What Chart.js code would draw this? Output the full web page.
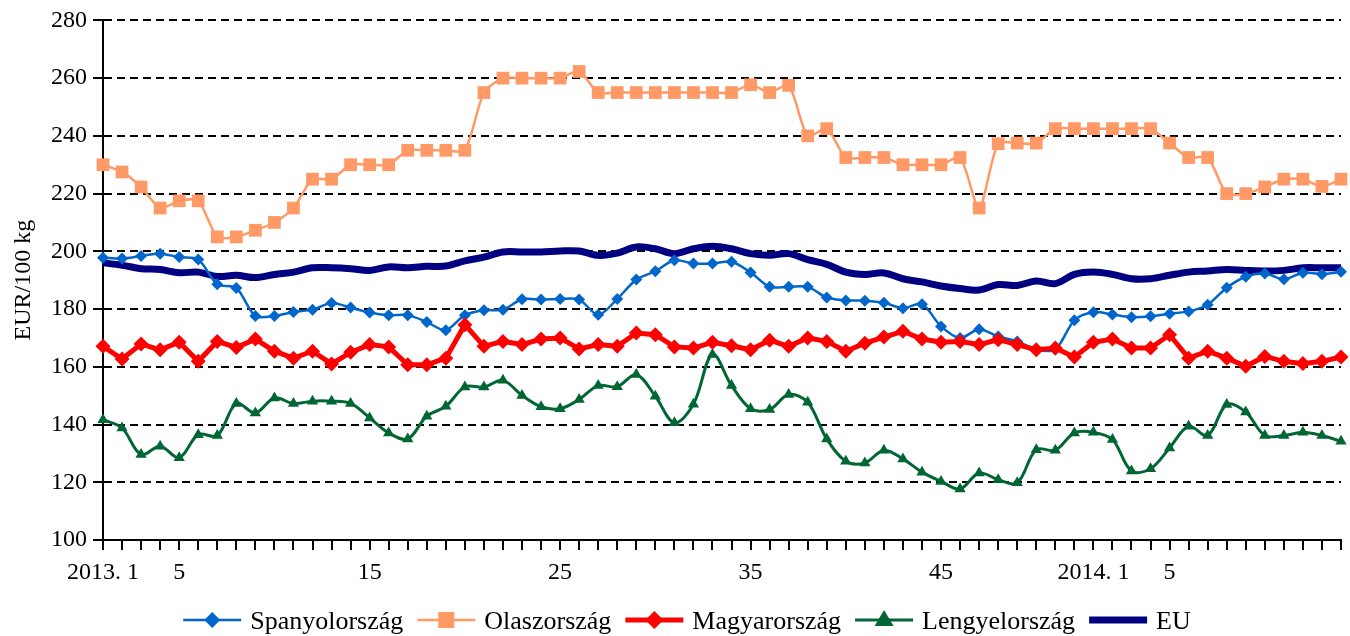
<!DOCTYPE html>
<html>
<head>
<meta charset="utf-8">
<title>Sertésár</title>
<script src="https://cdn.jsdelivr.net/npm/chart.js@4/dist/chart.umd.min.js"></script>
<style>
  html, body { margin: 0; padding: 0; background: #fff; }
  #wrap { width: 1350px; height: 636px; }
</style>
</head>
<body>
<div id="wrap"><canvas id="priceChart" width="1350" height="636"></canvas></div>
<script>
// weeks: 2013. 1-52, 2014. 1-14
const weeks = ['1','2','3','4','5','6','7','8','9','10','11','12','13','14','15','16','17','18','19','20',
  '21','22','23','24','25','26','27','28','29','30','31','32','33','34','35','36','37','38','39','40',
  '41','42','43','44','45','46','47','48','49','50','51','52',
  '1','2','3','4','5','6','7','8','9','10','11','12','13','14'];
const tickIndex = [0, 4, 14, 24, 34, 44, 52, 56];
const tickText = ['2013. 1', '5', '15', '25', '35', '45', '2014. 1', '5'];

const spain = [197.8,197.5,198.4,199.2,198.0,197.2,188.6,187.3,177.6,177.6,
  179.0,179.8,182.1,180.5,178.8,177.9,177.9,175.5,172.7,177.9,
  179.6,179.8,183.4,183.3,183.5,183.3,178.0,183.5,190.2,193.1,
  196.9,195.8,195.8,196.4,192.7,187.7,187.7,187.7,184.0,183.0,
  182.9,182.2,180.3,181.7,174.0,170.0,173.0,170.5,168.8,166.0,
  166.0,176.1,178.9,178.1,177.2,177.5,178.4,179.2,181.5,187.4,
  191.2,192.3,190.3,192.6,192.1,192.9];
const italy = [230,227.5,222.3,215,217.5,217.5,205,205,207.3,210,
  215,225,225,230,230,230,235,235,235,235,
  255,260,260,260,260,262.3,255,255,255,255,
  255,255,255,255,257.7,255,257.5,240,242.5,232.5,
  232.5,232.5,230,230,230,232.5,215,237.3,237.5,237.5,
  242.5,242.5,242.5,242.5,242.5,242.5,237.5,232.5,232.5,220,
  220,222.3,225,225,222.5,225];
const hungary = [167.1,162.7,167.9,165.9,168.5,161.9,168.8,166.7,169.6,165.4,
  163.0,165.4,161.0,165.0,167.7,166.9,160.7,160.7,163.0,174.6,
  167.1,168.8,167.7,169.6,170.0,166.2,167.7,167.1,171.7,171.1,
  166.9,166.5,168.5,167.3,165.9,169.2,167.1,170.0,168.8,165.4,
  168.2,170.3,172.3,169.6,168.5,168.8,167.7,169.4,167.7,165.9,
  166.5,163.4,168.5,169.6,166.5,166.5,171.1,163.0,165.4,163.0,
  160.2,163.6,161.9,161.1,161.9,163.4];
const poland = [141.7,138.8,129.6,132.5,128.5,136.5,136.2,147.3,144.0,149.2,
  147.3,148.1,148.1,147.3,142.3,137.1,135.0,142.9,146.3,153.0,
  153.0,155.3,150.1,146.2,145.5,148.7,153.5,153.1,157.3,149.8,
  140.6,147.0,164.3,153.5,145.5,145.2,150.4,147.7,135.0,127.3,
  126.7,131.1,128.1,123.5,120.3,117.7,123.2,120.9,119.8,131.3,
  131.1,137.1,137.3,134.8,123.9,124.7,131.9,139.4,136.2,146.9,
  144.3,136.2,136.2,137.3,136.2,134.2];
const eu = [196.0,195.2,194.0,193.7,192.6,192.8,191.3,191.7,190.9,192.0,
  192.8,194.3,194.3,194.0,193.4,194.6,194.3,194.8,194.9,196.7,
  198.0,199.8,199.8,199.8,200.1,200.1,198.6,199.4,201.5,200.9,
  199.2,200.9,201.8,200.9,199.2,198.6,199.2,197.1,195.5,192.8,
  192.0,192.5,190.5,189.4,188.0,187.1,186.6,188.5,188.2,189.7,
  188.8,192.0,192.8,192.0,190.5,190.5,191.7,192.8,193.2,193.7,
  193.4,193.2,193.4,194.3,194.3,194.3];

const serif = 'Liberation Serif, "Times New Roman", serif';

function marker(ctx, kind, x, y, r) {
  ctx.beginPath();
  if (kind === 'diamond') {
    ctx.moveTo(x, y - r); ctx.lineTo(x + r, y); ctx.lineTo(x, y + r); ctx.lineTo(x - r, y);
  } else if (kind === 'square') {
    ctx.rect(x - r, y - r, 2 * r, 2 * r);
  } else if (kind === 'triangle') {
    ctx.moveTo(x, y - r); ctx.lineTo(x + r * 0.95, y + r * 0.6); ctx.lineTo(x - r * 0.95, y + r * 0.6);
  }
  ctx.closePath();
  ctx.fill();
}

// legend: line sample + marker, then text
const legendItems = [
  { text: 'Spanyolország', color: '#0066CC', width: 2.5, mark: 'diamond', r: 8 },
  { text: 'Olaszország', color: '#FF9966', width: 2.5, mark: 'square', r: 8 },
  { text: 'Magyarország', color: '#FF0000', width: 5, mark: 'diamond', r: 9 },
  { text: 'Lengyelország', color: '#006633', width: 3, mark: 'triangle', r: 10 },
  { text: 'EU', color: '#000080', width: 7, mark: null, r: 0 }
];

const bottomLegend = {
  id: 'bottomLegend',
  afterDraw(chart) {
    const ctx = chart.ctx;
    const lineW = 58, gapText = 9, gapItem = 14, lineY = 620, baseY = 629;
    ctx.save();
    ctx.font = '26px ' + serif;
    let total = 0;
    legendItems.forEach((it, i) => {
      total += lineW + gapText + ctx.measureText(it.text).width + (i ? gapItem : 0);
    });
    let x = 687 - total / 2;
    legendItems.forEach(it => {
      ctx.strokeStyle = it.color;
      ctx.lineWidth = it.width;
      ctx.beginPath();
      ctx.moveTo(x, lineY);
      ctx.lineTo(x + lineW, lineY);
      ctx.stroke();
      if (it.mark) {
        ctx.fillStyle = it.color;
        marker(ctx, it.mark, x + lineW / 2, lineY, it.r);
      }
      x += lineW + gapText;
      ctx.fillStyle = '#000';
      ctx.textBaseline = 'alphabetic';
      ctx.fillText(it.text, x, baseY);
      x += ctx.measureText(it.text).width + gapItem;
    });
    ctx.restore();
  }
};

const ds = (label, data, color, width, style, radius, tension, order) => ({
  label, data, order,
  borderColor: color, backgroundColor: color,
  borderWidth: width, tension,
  pointStyle: style, pointRadius: radius, pointHoverRadius: radius,
  pointBorderWidth: 0, clip: false
});

new Chart(document.getElementById('priceChart'), {
  type: 'line',
  data: {
    labels: weeks,
    datasets: [
      ds('Spanyolország', spain, '#0066CC', 2.5, 'rectRot', 6, 0.3, 1),
      ds('Olaszország', italy, '#FF9966', 2.5, 'rect', 9, 0.25, 3),
      ds('Magyarország', hungary, '#FF0000', 5, 'rectRot', 7.5, 0, 0),
      ds('Lengyelország', poland, '#006633', 3, 'triangle', 6.5, 0.35, 2),
      ds('EU', eu, '#000080', 7, 'circle', 0, 0.35, 4)
    ]
  },
  options: {
    responsive: false,
    animation: false,
    devicePixelRatio: 1,
    layout: { padding: { top: 20, right: 7, bottom: 52, left: 0 } },
    plugins: { legend: { display: false }, tooltip: { enabled: false } },
    scales: {
      x: {
        type: 'category',
        offset: false,
        grid: { display: true, drawOnChartArea: false, drawTicks: true, tickLength: 10, color: '#000', lineWidth: 2 },
        border: { display: true, color: '#000', width: 2 },
        ticks: {
          autoSkip: false, maxRotation: 0, minRotation: 0, color: '#000', padding: 8,
          font: { family: serif, size: 24 },
          callback: (v, i) => { const k = tickIndex.indexOf(i); return k >= 0 ? tickText[k] : ''; }
        },
        afterFit: s => { s.height = 44; }
      },
      y: {
        min: 100, max: 280,
        ticks: { stepSize: 20, color: '#000', padding: 6, font: { family: serif, size: 24 } },
        grid: { color: '#000', lineWidth: 2, tickLength: 10 },
        border: { display: true, color: '#000', width: 2, dash: [8, 5] },
        title: { display: true, text: 'EUR/100 kg', color: '#000', font: { family: serif, size: 24 }, padding: { top: 9, bottom: 0 } },
        afterFit: s => { s.width = 103; }
      }
    }
  },
  plugins: [bottomLegend]
});
</script>
</body>
</html>
